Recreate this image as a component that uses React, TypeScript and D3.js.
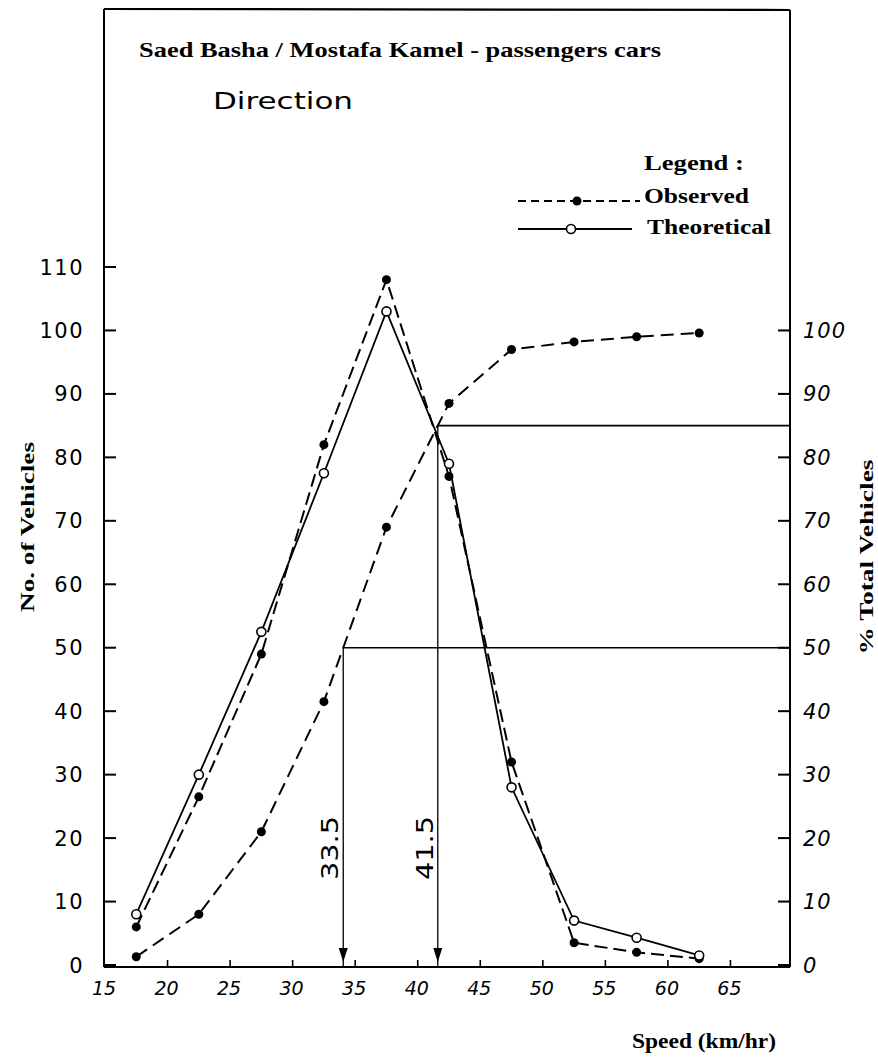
import React from "react";
import * as d3 from "d3";

// speed class mid-points (km/hr)
const speeds = [17.5, 22.5, 27.5, 32.5, 37.5, 42.5, 47.5, 52.5, 57.5, 62.5];
// no. of vehicles per class
const observed = [6, 26.5, 49, 82, 108, 77, 32, 3.5, 2, 1];
const theoretical = [8, 30, 52.5, 77.5, 103, 79, 28, 7, 4.3, 1.5];
// cumulative % total vehicles
const cumulative = [1.3, 8, 21, 41.5, 69, 88.5, 97, 98.2, 99, 99.6];

const xTicks = [15, 20, 25, 30, 35, 40, 45, 50, 55, 60, 65];
const leftTicks = [0, 10, 20, 30, 40, 50, 60, 70, 80, 90, 100, 110];
const rightTicks = [0, 10, 20, 30, 40, 50, 60, 70, 80, 90, 100];
const percentiles = [
  { pct: 50, label: "33.5" },
  { pct: 85, label: "41.5" },
];

const W = 878;
const H = 1062;

// speed where the cumulative curve reaches a given percentage
function crossAt(p: number) {
  for (let i = 1; i < cumulative.length; i++) {
    if (cumulative[i] >= p) {
      const t = (p - cumulative[i - 1]) / (cumulative[i] - cumulative[i - 1]);
      return speeds[i - 1] + t * (speeds[i] - speeds[i - 1]);
    }
  }
  return speeds[speeds.length - 1];
}

export default function App() {
  const x = d3.scaleLinear().domain([15, 70]).range([105, 793]);
  const y = d3.scaleLinear().domain([0, 110]).range([965, 267]);
  const left = x(15) - 1;
  const right = 790;
  const top = 9;
  const bottom = y(0) + 2;

  const line = d3
    .line<[number, number]>()
    .x((d) => x(d[0]))
    .y((d) => y(d[1]));

  const obsPts = speeds.map((s, i) => [s, observed[i]] as [number, number]);
  const theoPts = speeds.map((s, i) => [s, theoretical[i]] as [number, number]);
  const cumPts = speeds.map((s, i) => [s, cumulative[i]] as [number, number]);

  const digitFont = "'DejaVu Sans', sans-serif";
  const serif = "'Liberation Serif', 'Times New Roman', serif";

  return (
    <svg
      width={W}
      height={H}
      style={{ position: "absolute", left: 0, top: 0, background: "#fff" }}
    >
      <rect width={W} height={H} fill="#fff" />

      {/* frame */}
      <line x1={left} y1={top} x2={right} y2={top + 1} stroke="#000" strokeWidth={2.2} />
      <line x1={left} y1={top} x2={left} y2={bottom} stroke="#000" strokeWidth={2} />
      <line x1={right} y1={top + 1} x2={right} y2={bottom} stroke="#000" strokeWidth={2} />
      <line x1={left} y1={bottom} x2={right} y2={bottom} stroke="#000" strokeWidth={2.2} />

      {/* titles */}
      <text
        x={139}
        y={57}
        fontFamily={serif}
        fontWeight="bold"
        fontSize={21}
        textLength={522}
        lengthAdjust="spacingAndGlyphs"
      >
        Saed Basha / Mostafa Kamel - passengers cars
      </text>
      <text
        x={213}
        y={109}
        fontFamily={digitFont}
        fontSize={23}
        textLength={140}
        lengthAdjust="spacingAndGlyphs"
      >
        Direction
      </text>

      {/* legend */}
      <text x={644} y={170} fontFamily={serif} fontWeight="bold" fontSize={20} textLength={100} lengthAdjust="spacingAndGlyphs">
        Legend :
      </text>
      <line x1={518} y1={201} x2={640} y2={201} stroke="#000" strokeWidth={2} strokeDasharray="8,5" />
      <circle cx={577} cy={201} r={4.5} fill="#000" />
      <text x={644} y={203} fontFamily={serif} fontWeight="bold" fontSize={20} textLength={105} lengthAdjust="spacingAndGlyphs">
        Observed
      </text>
      <line x1={518} y1={229} x2={632} y2={229} stroke="#000" strokeWidth={2} />
      <circle cx={571} cy={229} r={4.5} fill="#fff" stroke="#000" strokeWidth={1.6} />
      <text x={647} y={234} fontFamily={serif} fontWeight="bold" fontSize={20} textLength={124} lengthAdjust="spacingAndGlyphs">
        Theoretical
      </text>

      {/* left axis */}
      {leftTicks.map((t) => (
        <g key={"l" + t}>
          <line x1={left} y1={y(t)} x2={left + 12} y2={y(t)} stroke="#000" strokeWidth={2} />
          <text
            x={84}
            y={y(t)}
            dy="0.36em"
            textAnchor="end"
            fontFamily={digitFont}
            fontSize={21}
            letterSpacing={1.5}
          >
            {t}
          </text>
        </g>
      ))}
      <text
        transform={`translate(27,527) rotate(-90)`}
        textAnchor="middle"
        dy="0.35em"
        fontFamily={serif}
        fontWeight="bold"
        fontSize={19}
        textLength={170}
        lengthAdjust="spacingAndGlyphs"
      >
        No. of Vehicles
      </text>

      {/* right axis */}
      {rightTicks.map((t) => (
        <g key={"r" + t}>
          <line x1={right - 12} y1={y(t)} x2={right} y2={y(t)} stroke="#000" strokeWidth={2} />
          <text
            x={803}
            y={y(t)}
            dy="0.36em"
            fontFamily={digitFont}
            fontStyle="italic"
            fontSize={21}
            letterSpacing={1}
          >
            {t}
          </text>
        </g>
      ))}
      <text
        transform={`translate(866,557) rotate(-90)`}
        textAnchor="middle"
        dy="0.35em"
        fontFamily={serif}
        fontWeight="bold"
        fontSize={19}
        textLength={195}
        lengthAdjust="spacingAndGlyphs"
      >
        % Total Vehicles
      </text>

      {/* bottom axis */}
      {xTicks.map((t) => (
        <g key={"x" + t}>
          {t > 15 && (
            <line x1={x(t)} y1={bottom} x2={x(t)} y2={bottom - 7} stroke="#000" strokeWidth={1.6} />
          )}
          <text
            x={x(t) - 1}
            y={988}
            dy="0.35em"
            textAnchor="middle"
            fontFamily={digitFont}
            fontStyle="italic"
            fontSize={19}
          >
            {t}
          </text>
        </g>
      ))}
      <text
        x={632}
        y={1048}
        fontFamily={serif}
        fontWeight="bold"
        fontSize={20}
        textLength={144}
        lengthAdjust="spacingAndGlyphs"
      >
        Speed (km/hr)
      </text>

      {/* percentile construction lines */}
      {percentiles.map((p) => {
        const sx = x(crossAt(p.pct));
        const py = y(p.pct);
        return (
          <g key={"p" + p.pct}>
            <line x1={sx} y1={py} x2={right} y2={py} stroke="#000" strokeWidth={1.6} />
            <line x1={sx} y1={py} x2={sx} y2={bottom} stroke="#000" strokeWidth={1.3} />
            <path
              d={`M${sx - 4.5},${y(0) - 17} L${sx + 4.5},${y(0) - 17} L${sx},${y(0) - 3} Z`}
              fill="#000"
            />
            <text
              transform={`translate(${sx - 13},848) rotate(-90)`}
              textAnchor="middle"
              dy="0.35em"
              fontFamily={digitFont}
              fontSize={23}
              textLength={64}
              lengthAdjust="spacingAndGlyphs"
            >
              {p.label}
            </text>
          </g>
        );
      })}

      {/* cumulative curve */}
      <path d={line(cumPts) || ""} fill="none" stroke="#000" strokeWidth={2} strokeDasharray="13,7" />
      {cumPts.map((d, i) => (
        <circle key={"c" + i} cx={x(d[0])} cy={y(d[1])} r={4.5} fill="#000" />
      ))}

      {/* observed frequency */}
      <path d={line(obsPts) || ""} fill="none" stroke="#000" strokeWidth={2} strokeDasharray="13,6" />
      {obsPts.map((d, i) => (
        <circle key={"o" + i} cx={x(d[0])} cy={y(d[1])} r={4.5} fill="#000" />
      ))}

      {/* theoretical frequency */}
      <path d={line(theoPts) || ""} fill="none" stroke="#000" strokeWidth={1.8} />
      {theoPts.map((d, i) => (
        <circle
          key={"t" + i}
          cx={x(d[0])}
          cy={y(d[1])}
          r={4.5}
          fill="#fff"
          stroke="#000"
          strokeWidth={1.6}
        />
      ))}
    </svg>
  );
}
